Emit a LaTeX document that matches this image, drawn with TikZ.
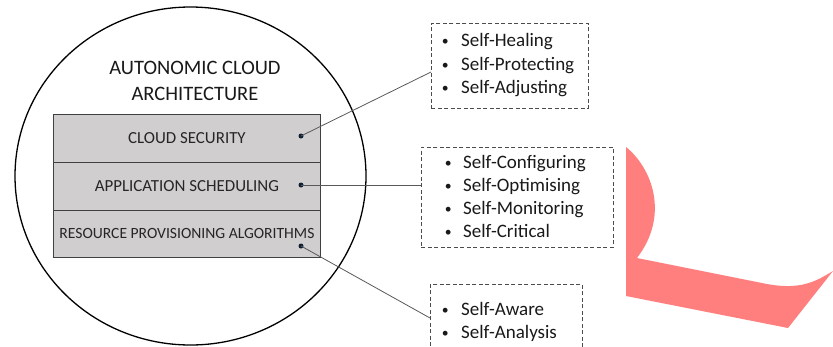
\documentclass[tikz,border=0pt]{standalone}
\usepackage{fontspec}
\setmainfont{Carlito}
\definecolor{rowgray}{HTML}{D0CECE}
\definecolor{dotblue}{HTML}{0E2033}
\definecolor{linkgray}{HTML}{595959}
\definecolor{pinkshape}{HTML}{FF7F7F}
\newcommand{\bul}{\makebox[8pt][c]{\raisebox{1pt}{\scalebox{0.72}{\textbullet}}}}
\begin{document}
\begin{tikzpicture}[x=1pt,y=-1pt,
  row/.style={draw=black!75, line width=0.9pt, fill=rowgray, minimum width=267pt, minimum height=48pt, inner sep=0pt, anchor=north west, text=black!85},
  dotmark/.style={circle, fill=dotblue, inner sep=0pt, minimum size=5pt},
  link/.style={draw=linkgray, line width=0.8pt},
  listbox/.style={draw=black!70, dashed, dash pattern=on 4pt off 2.5pt, line width=0.8pt, anchor=north west, inner sep=0pt},
  itemtext/.style={anchor=base west, font=\fontsize{19}{21}\selectfont, inner sep=0pt, text=black!90},
  ]
\useasboundingbox (0,0) rectangle (833,346);
\begin{scope}
\clip (0,0) rectangle (833,346);
% pink shape
\fill[pinkshape] (626,147) .. controls (652,168) and (670,215) .. (637,258)
  -- (767,284) .. controls (800,290) and (815,282) .. (833,271)
  -- (788,328) -- (626,296) -- cycle;
% big ellipse
\draw[line width=1.3pt] (190.5,176) ellipse [x radius=175.5, y radius=169];
% title
\node[align=center, font=\fontsize{20.5}{26}\selectfont, text=black!90] (title) at (195,81) {AUTONOMIC CLOUD\\ARCHITECTURE};
% rows
\node[row, font=\fontsize{16.9}{18}\selectfont] (sec) at (53,114) {CLOUD SECURITY};
\node[row, font=\fontsize{16.9}{18}\selectfont] (app) at (53,162) {APPLICATION SCHEDULING};
\node[row, minimum height=47pt, font=\fontsize{15.6}{17}\selectfont] (res) at (53,210) {\raisebox{1pt}{RESOURCE PROVISIONING ALGORITHMS}};
% dots
\node[dotmark] (d1) at (301,136) {};
\node[dotmark] (d2) at (301,185) {};
\node[dotmark] (d3) at (301,246) {};
% list boxes
\node[listbox, minimum width=157pt, minimum height=85pt] (b1) at (431,23) {};
\node[listbox, minimum width=192pt, minimum height=100pt] (b2) at (421,147) {};
\node[listbox, minimum width=152pt, minimum height=80pt] (b3) at (430,284) {};
% items
\node[itemtext] (i11) at (441,46.5) {\bul\hspace{12pt}Self-Healing};
\node[itemtext] (i12) at (441,70) {\bul\hspace{12pt}Self-Protecting};
\node[itemtext] (i13) at (441,93.5) {\bul\hspace{12pt}Self-Adjusting};
\node[itemtext] (i21) at (444,168) {\bul\hspace{11pt}Self-Configuring};
\node[itemtext] (i22) at (444,191) {\bul\hspace{11pt}Self-Optimising};
\node[itemtext] (i23) at (444,214) {\bul\hspace{11pt}Self-Monitoring};
\node[itemtext] (i24) at (444,237) {\bul\hspace{11pt}Self-Critical};
\node[itemtext] (i31) at (441,315) {\bul\hspace{12pt}Self-Aware};
\node[itemtext] (i32) at (441,338.5) {\bul\hspace{12pt}Self-Analysis};
% connectors
\coordinate (e1) at (431,72);
\coordinate (e2) at (421,185);
\coordinate (e3) at (430,318);
\draw[link] (d1.center) -- (e1);
\draw[link] (d2.center) -- (e2);
\draw[link] (d3.center) -- (e3);
\end{scope}
\end{tikzpicture}
\end{document}
